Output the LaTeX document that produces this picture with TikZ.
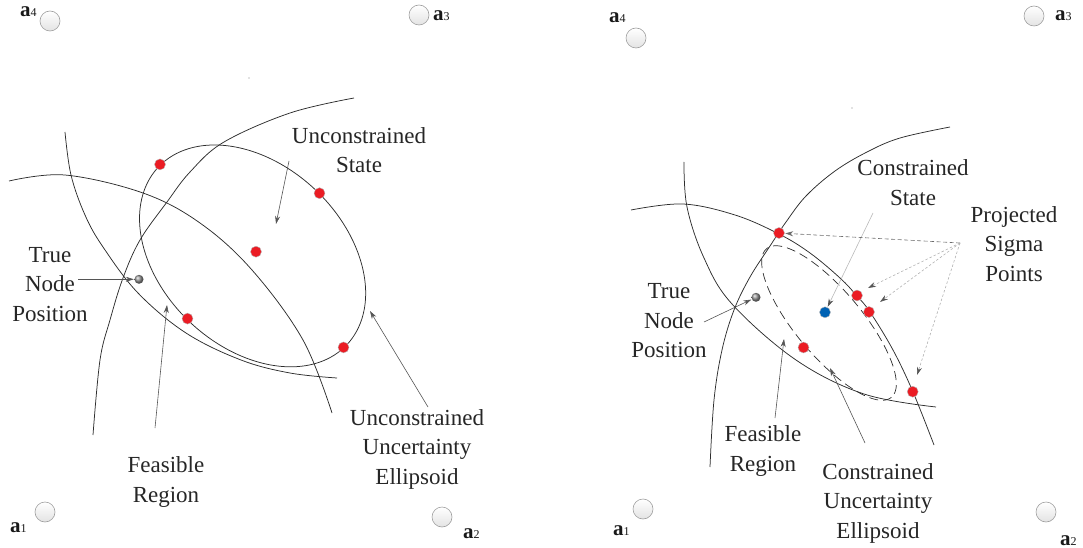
\documentclass[tikz,border=0pt]{standalone}
\usepackage{fontspec}
\setmainfont{Liberation Serif}
\usetikzlibrary{arrows.meta}
\definecolor{sigred}{RGB}{235,28,36}
\definecolor{stblue}{RGB}{0,98,180}
\definecolor{curvecol}{RGB}{45,45,45}
\definecolor{arrcol}{RGB}{85,85,85}
\newcommand{\anclbl}[1]{{\fontsize{21}{21}\selectfont\bfseries a}{\fontsize{12}{12}\selectfont #1}}
\begin{document}
\begin{tikzpicture}[x=1pt,y=-1pt,
  crv/.style={draw=curvecol, line width=0.75pt},
  anchorc/.style={circle, minimum size=20pt, inner sep=0pt, draw=gray!75, line width=0.6pt, top color=white, bottom color=gray!22},
  anclab/.style={anchor=base west, inner sep=0pt, text=black!90},
  lab/.style={align=center, font=\fontsize{23}{29.5}\selectfont, inner sep=0pt, text=black!85},
  sig/.style={circle, minimum size=11pt, inner sep=0pt, fill=sigred, draw=gray!55, line width=0.4pt},
  cst/.style={circle, minimum size=11pt, inner sep=0pt, fill=stblue, draw=gray!55, line width=0.4pt},
  tru/.style={circle, minimum size=9pt, inner sep=0pt, ball color=gray!85},
  arr/.style={draw=arrcol, line width=0.6pt, -{Stealth[length=8pt,width=5pt]}},
  larr/.style={draw=gray!55, line width=0.6pt, -{Stealth[length=8pt,width=5pt,color=arrcol]}},
  projd/.style={draw=gray!85!black, line width=0.6pt, dash pattern=on 4pt off 2.5pt, -{Stealth[length=8pt,width=5pt]}},
  projl/.style={draw=gray!60, line width=0.6pt, dash pattern=on 2.5pt off 2pt, -{Stealth[length=8pt,width=5pt,color=arrcol]}},
]
\useasboundingbox (0,0) rectangle (1083,548);

% ================= LEFT PANEL =================
\node[anchorc] (A4L) at (50,21) {};
\node[anchorc] (A3L) at (419,15) {};
\node[anchorc] (A1L) at (45,512) {};
\node[anchorc] (A2L) at (442,517) {};
\node[anclab] (la4L) at (20,17) {\anclbl{4}};
\node[anclab] (la3L) at (433,21) {\anclbl{3}};
\node[anclab] (la1L) at (10,532) {\anclbl{1}};
\node[anclab] (la2L) at (463,538) {\anclbl{2}};
\fill[gray] (249,78) circle (0.7);

\draw[crv] plot[smooth, tension=0.6] coordinates {(354,98) (290,113) (224,142) (190,172) (167,202) (140,240) (123,278) (110,320) (100,360) (93,435)};
\draw[crv] plot[smooth, tension=0.6] coordinates {(65,132) (71,175) (85,215) (103,247) (138,293) (186,333) (241,360) (290,373) (337,378)};
\draw[crv] plot[smooth, tension=0.6] coordinates {(9,181) (65,175) (143,193) (200,223) (252,270) (303,340) (332,413)};
\draw[crv] plot[domain=0:360, samples=140, smooth, variable=\t] ({252.6+91.6*cos(\t)+66.3*sin(\t)},{255.9+91.5*cos(\t)-62.7*sin(\t)});

\node[sig] (s1L) at (160,164.4) {};
\node[sig] (s2L) at (319.5,193.2) {};
\node[sig] (s0L) at (256,251.7) {};
\node[sig] (s3L) at (187.5,318.6) {};
\node[sig] (s4L) at (343.5,347.4) {};
\node[tru] (gdL) at (139,279.3) {};

\node[lab] (usL) at (359,150) {Unconstrained\\State};
\node[lab] (tnL) at (50,284.5) {True\\Node\\Position};
\node[lab] (frL) at (166,482) {Feasible\\Region};
\node[lab] (ueL) at (417,449) {Unconstrained\\Uncertainty\\Ellipsoid};

\coordinate (usLs) at (289,161);
\coordinate (usLt) at (276,224);
\draw[arr] (usLs) -- (usLt);
\coordinate (tnLs) at (78,279.3);
\draw[arr, shorten >=0.5pt] (tnLs) -- (gdL);
\coordinate (frLs) at (155,428);
\coordinate (frLt) at (167,305);
\draw[arr] (frLs) -- (frLt);
\coordinate (ueLs) at (428,407);
\coordinate (ueLt) at (370,311);
\draw[arr] (ueLs) -- (ueLt);

% ================= RIGHT PANEL =================
\node[anchorc] (A4R) at (636,38) {};
\node[anchorc] (A3R) at (1034,16) {};
\node[anchorc] (A1R) at (643,509) {};
\node[anchorc] (A2R) at (1046,512) {};
\node[anclab] (la4R) at (609,23) {\anclbl{4}};
\node[anclab] (la3R) at (1055,21) {\anclbl{3}};
\node[anclab] (la1R) at (613,535) {\anclbl{1}};
\node[anclab] (la2R) at (1060,545) {\anclbl{2}};
\fill[gray] (852,108) circle (0.7);

\draw[crv] plot[smooth, tension=0.6] coordinates {(950,127) (900,138) (867,152) (835,171) (806,196) (786,222) (770,246) (750,277) (734,310) (722,350) (714,400) (710,467)};
\draw[crv] plot[smooth, tension=0.6] coordinates {(684,162) (687,207) (704,258) (732,304) (796,360) (864,394) (936,407)};
\draw[crv] plot[smooth, tension=0.6] coordinates {(631,210) (683,204) (735,215) (779,234) (810,253) (840,278) (857,296) (870,312) (893,350) (913,392) (934,445)};
\draw[draw=curvecol, line width=0.7pt, dash pattern=on 9pt off 5pt] plot[domain=0:360, samples=140, smooth, variable=\t] ({829+62.4*cos(\t)-25.3*sin(\t)},{323+74.3*cos(\t)+21.2*sin(\t)});

\node[sig] (s1R) at (779,233) {};
\node[sig] (s2R) at (857,295.5) {};
\node[sig] (s3R) at (869,312) {};
\node[sig] (s4R) at (803.5,347.5) {};
\node[sig] (s5R) at (912.7,391.7) {};
\node[cst] (cR) at (825,312.3) {};
\node[tru] (gdR) at (756,297.3) {};

\node[lab] (csR) at (913,182.5) {Constrained\\State};
\node[lab] (psR) at (1014,244) {Projected\\Sigma\\Points};
\node[lab] (tnR) at (669,321) {True\\Node\\Position};
\node[lab] (frR) at (763,451) {Feasible\\Region};
\node[lab] (ceR) at (878,503) {Constrained\\Uncertainty\\Ellipsoid};

\coordinate (tnRs) at (704,322);
\draw[arr, shorten >=0.5pt] (tnRs) -- (gdR);
\coordinate (csRs) at (873,213);
\draw[larr, shorten >=0.5pt] (csRs) -- (cR);
\coordinate (frRs) at (775,418);
\coordinate (frRt) at (784,339);
\draw[arr] (frRs) -- (frRt);
\coordinate (ceRs) at (865,443);
\coordinate (ceRt) at (830,368);
\draw[arr] (ceRs) -- (ceRt);

\coordinate (pso) at (960,243);
\coordinate (pt2) at (868,288);
\coordinate (pt3) at (880,302);
\coordinate (pt5) at (917,375);
\draw[projd, shorten >=0.5pt] (pso) -- (s1R);
\draw[projl] (pso) -- (pt2);
\draw[projl] (pso) -- (pt3);
\draw[projl] (pso) -- (pt5);
\end{tikzpicture}
\end{document}
